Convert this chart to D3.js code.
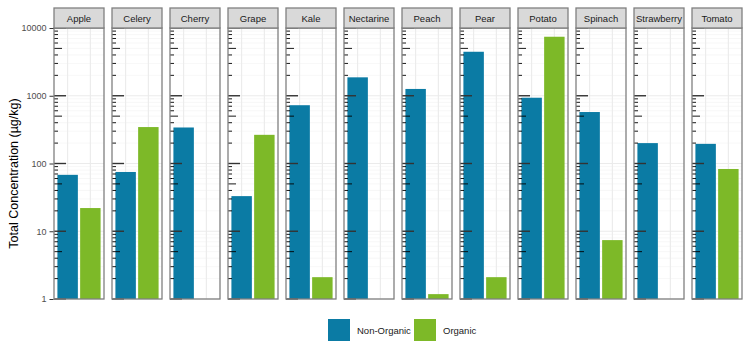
<!DOCTYPE html>
<html>
<head>
<meta charset="utf-8">
<script src="https://cdn.jsdelivr.net/npm/d3@7"></script>
<style>
  html, body { margin: 0; padding: 0; background: #fff; }
  svg { display: block; font-family: "Liberation Sans", Arial, sans-serif; }
</style>
</head>
<body>
<svg id="chart" width="750" height="350"></svg>
<script>
const crops = ["Apple","Celery","Cherry","Grape","Kale","Nectarine","Peach","Pear","Potato","Spinach","Strawberry","Tomato"];
const types = ["Non-Organic","Organic"];
const nonOrganic = [68, 75, 340, 33, 725, 1870, 1260, 4460, 935, 575, 200, 195];
const organic =    [22, 345, null, 265, 2.1, null, 1.18, 2.1, 7430, 7.4, null, 83];
const yTicks = [1, 10, 100, 1000, 10000];
const colors = ["#0B7BA4", "#7DB928"];

(function() {
const svg = d3.select("#chart");
const panelLeft = 54, panelW = 50, gap = 8, plotTop = 28, plotBottom = 299, stripH = 20;

const y = d3.scaleLog().domain([1, 10000]).range([plotBottom, plotTop]);
const xPanel = d3.scaleBand().domain(crops).range([panelLeft, panelLeft + crops.length * panelW + (crops.length - 1) * gap]).paddingInner(gap / (panelW + gap)).paddingOuter(0);
const xIn = d3.scaleBand().domain(types).range([0, xPanel.bandwidth()]).paddingInner(0.1).paddingOuter(0.15);

const minorVals = [];
for (let k = 0; k < 4; k++) for (let m = 2; m <= 9; m++) minorVals.push(m * Math.pow(10, k));

const data = crops.map((c, i) => ({ crop: c, vals: [ {type: types[0], v: nonOrganic[i]}, {type: types[1], v: organic[i]} ] }));

const panels = svg.selectAll("g.panel").data(data).join("g")
  .attr("class", "panel")
  .attr("transform", d => `translate(${xPanel(d.crop)},0)`);

const W = xPanel.bandwidth();

panels.each(function() {
  const g = d3.select(this);
  g.selectAll("line.minor").data(minorVals).join("line").attr("class", "minor")
    .attr("x1", 0).attr("x2", W)
    .attr("y1", d => y(d)).attr("y2", d => y(d))
    .attr("stroke", "#F2F2F2").attr("stroke-width", 0.6);
  g.selectAll("line.major").data(yTicks).join("line").attr("class", "major")
    .attr("x1", 0).attr("x2", W)
    .attr("y1", d => y(d)).attr("y2", d => y(d))
    .attr("stroke", "#EBEBEB").attr("stroke-width", 1.1);
  g.selectAll("line.vgrid").data(types).join("line").attr("class", "vgrid")
    .attr("x1", d => xIn(d) + xIn.bandwidth() / 2).attr("x2", d => xIn(d) + xIn.bandwidth() / 2)
    .attr("y1", plotTop).attr("y2", plotBottom)
    .attr("stroke", "#EBEBEB").attr("stroke-width", 1.1);
});

panels.selectAll("rect.bar").data(d => d.vals.filter(v => v.v != null)).join("rect")
  .attr("class", "bar")
  .attr("x", d => xIn(d.type))
  .attr("width", xIn.bandwidth())
  .attr("y", d => y(d.v))
  .attr("height", d => plotBottom - y(d.v))
  .attr("fill", d => colors[types.indexOf(d.type)]);

panels.each(function() {
  const g = d3.select(this);
  g.selectAll("line.lt").data(minorVals).join("line").attr("class", "lt")
    .attr("x1", 0).attr("x2", d => (Math.round(d / Math.pow(10, Math.floor(Math.log10(d) + 1e-9))) === 5 ? 8 : 4))
    .attr("y1", d => y(d)).attr("y2", d => y(d))
    .attr("stroke", "#000").attr("stroke-width", 0.9);
  g.selectAll("line.lt2").data(yTicks).join("line").attr("class", "lt2")
    .attr("x1", 0).attr("x2", 12)
    .attr("y1", d => y(d)).attr("y2", d => y(d))
    .attr("stroke", "#333").attr("stroke-width", 1.4);
});

panels.append("rect")
  .attr("x", 0).attr("y", plotTop).attr("width", W).attr("height", plotBottom - plotTop)
  .attr("fill", "none").attr("stroke", "#808080").attr("stroke-width", 1.3);

panels.append("rect")
  .attr("x", 0).attr("y", plotTop - stripH).attr("width", W).attr("height", stripH)
  .attr("fill", "#D9D9D9").attr("stroke", "#808080").attr("stroke-width", 1.3);
panels.append("text")
  .attr("x", W / 2).attr("y", plotTop - stripH / 2)
  .attr("text-anchor", "middle").attr("dominant-baseline", "central")
  .attr("font-size", "9.5px").attr("fill", "#1A1A1A")
  .text(d => d.crop);

const yAxis = d3.axisLeft(y).tickValues(yTicks).tickFormat(d3.format("d")).tickSize(4).tickPadding(3);
const ax = svg.append("g").attr("transform", `translate(${panelLeft - 0.5},0)`).call(yAxis);
ax.select(".domain").remove();
ax.selectAll(".tick line").attr("stroke", "#333");
ax.selectAll(".tick text").attr("fill", "#4D4D4D").attr("font-size", "9px").attr("font-family", "Liberation Sans, Arial, sans-serif");

svg.append("text")
  .attr("transform", `translate(14,${(plotTop + plotBottom) / 2 + 10}) rotate(-90)`)
  .attr("text-anchor", "middle").attr("dominant-baseline", "central")
  .attr("font-size", "12.5px").attr("fill", "#000")
  .text("Total Concentration (µg/kg)");

const legendX = [328, 414];
const lg = svg.append("g");
types.forEach((t, i) => {
  lg.append("rect").attr("x", legendX[i]).attr("y", 319).attr("width", 22).attr("height", 22).attr("fill", colors[i]);
  lg.append("text").attr("x", legendX[i] + 29).attr("y", 330)
    .attr("dominant-baseline", "central").attr("font-size", "9.5px").attr("fill", "#1A1A1A").text(t);
});
})();
</script>
</body>
</html>
